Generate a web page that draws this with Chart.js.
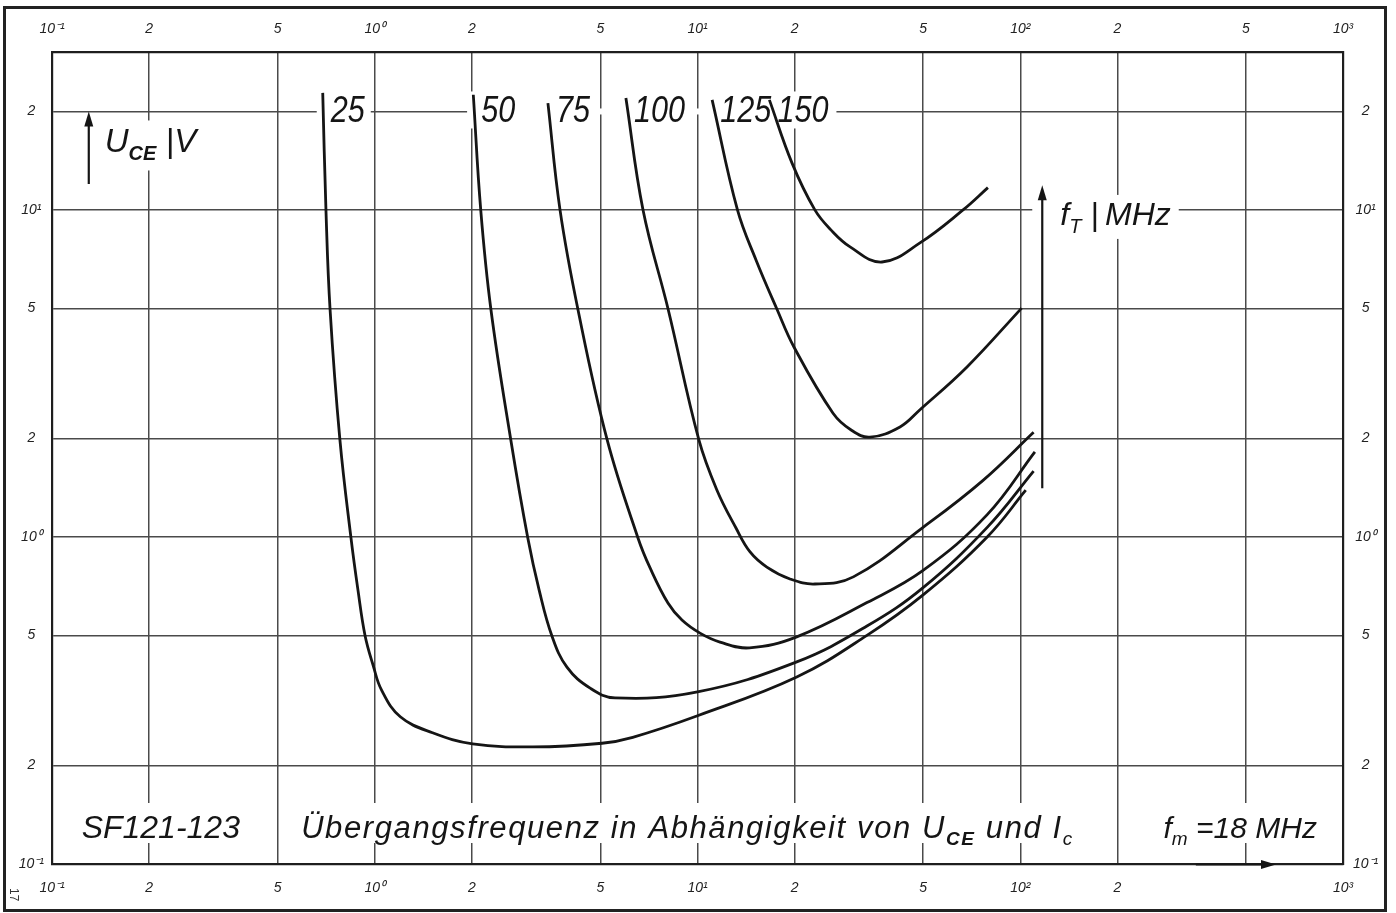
<!DOCTYPE html>
<html>
<head>
<meta charset="utf-8">
<title>SF121-123 Übergangsfrequenz</title>
<script src="https://cdn.jsdelivr.net/npm/chart.js@4.4.1/dist/chart.umd.min.js"></script>
<style>
  html, body { margin: 0; padding: 0; background: #fff; }
  #wrap { width: 1396px; height: 913px; }
</style>
</head>
<body>
<div id="wrap"><canvas id="c" width="1396" height="913"></canvas></div>
<script>
// ---- Axis ticks (log-log grid, 1-2-5 per decade) ----
const X_TICKS = [0.1, 0.2, 0.5, 1, 2, 5, 10, 20, 50, 100, 200, 500, 1000];
const X_LABELS_TOP = ['10⁻¹', '2', '5', '10⁰', '2', '5', '10¹', '2', '5', '10²', '2', '5', '10³'];
const X_LABELS_BOTTOM = ['10⁻¹', '2', '5', '10⁰', '2', '5', '10¹', '2', '5', '10²', '2', '', '10³'];
const Y_TICKS = [0.1, 0.2, 0.5, 1, 2, 5, 10, 20];
const Y_LABELS = ['10⁻¹', '2', '5', '10⁰', '2', '5', '10¹', '2'];

// ---- Curves of constant transit frequency f_T (MHz): I_C in mA, U_CE in V ----
const FT_VALUES = ['25', '50', '75', '100', '125', '150'];

const IC_25  = [0.69, 0.706, 0.727, 0.78, 0.844, 0.887, 0.933, 0.988, 1.05, 1.2, 1.51, 2.01, 3.09, 5.06, 6.3, 10.0, 20.3, 33.5, 50, 79, 104];
const UCE_25 = [22.8, 10, 4.97, 1.98, 0.993, 0.689, 0.5, 0.406, 0.34, 0.282, 0.252, 0.233, 0.228, 0.234, 0.244, 0.284, 0.373, 0.50, 0.665, 1.0, 1.39];

const IC_50  = [2.02, 2.13, 2.29, 2.64, 2.98, 3.23, 3.54, 3.94, 4.65, 5.55, 10.0, 20.3, 33.5, 50, 79, 110];
const UCE_50 = [22.5, 10, 4.97, 1.98, 0.993, 0.689, 0.498, 0.40, 0.345, 0.322, 0.336, 0.415, 0.534, 0.70, 1.07, 1.59];

const IC_75  = [3.44, 3.75, 4.26, 5.25, 6.54, 7.13, 8.10, 8.95, 10.18, 11.74, 14.5, 20.3, 33.5, 50, 79, 111];
const UCE_75 = [21.2, 10, 4.97, 1.98, 0.993, 0.804, 0.628, 0.557, 0.508, 0.477, 0.458, 0.495, 0.63, 0.79, 1.17, 1.82];

const IC_100  = [6.0, 6.78, 8.11, 10.1, 11.49, 13.16, 14.55, 16.4, 19.35, 23.1, 30.4, 50, 76.7, 110];
const UCE_100 = [22.0, 10, 4.97, 1.98, 1.39, 1.065, 0.90, 0.809, 0.744, 0.718, 0.755, 1.07, 1.49, 2.09];

const IC_125  = [11.1, 13.3, 15.18, 17.63, 19.9, 26.3, 30, 34.2, 42.4, 48.9, 68.4, 101];
const UCE_125 = [21.7, 10, 7.03, 4.97, 3.81, 2.39, 2.12, 2.02, 2.17, 2.45, 3.31, 5.01];

const IC_150  = [16.7, 19.63, 23.1, 25.9, 29.7, 37.3, 48.9, 66.5, 79.4];
const UCE_150 = [21.7, 13.9, 10, 8.69, 7.71, 6.93, 7.93, 10, 11.7];

const CURVES = [
  [IC_25, UCE_25], [IC_50, UCE_50], [IC_75, UCE_75],
  [IC_100, UCE_100], [IC_125, UCE_125], [IC_150, UCE_150]
];

// ---- Text ----
const TYPE_NAME = 'SF121-123';
const TITLE_PARTS = [['Übergangsfrequenz in Abhängigkeit von U', 'n'], ['CE', 'sb'], [' und I', 'n'], ['c', 's']];
const FM_PARTS = [['f', 'n'], ['m', 's'], [' =18 MHz', 'n']];
const UCE_PARTS = [['U', 'n'], ['CE', 'sb'], [' |V', 'n']];
const FT_PARTS = [['f', 'n'], ['T', 's'], [' |\u2009MHz', 'n']];
const IC_PARTS = [['I', 'n'], ['c', 's'], ['/mA', 'n']];

const FAMILY = '"Liberation Sans", Arial, sans-serif';
const INK = '#151515';
const GRID = '#4a4a4a';

function fontOf(size, bold) {
  return `italic ${bold ? 'bold ' : ''}${size}px ${FAMILY}`;
}
function partSize(size, kind) {
  return kind === 'n' ? size : Math.round(size * 0.62);
}
function richWidth(ctx, parts, size) {
  let w = 0;
  parts.forEach(([t, k]) => {
    ctx.font = fontOf(partSize(size, k), k === 'sb');
    w += ctx.measureText(t).width;
  });
  return w;
}
function drawRich(ctx, parts, x, base, size) {
  parts.forEach(([t, k]) => {
    ctx.font = fontOf(partSize(size, k), k === 'sb');
    ctx.fillText(t, x, base + (k === 'n' ? 0 : size * 0.24));
    x += ctx.measureText(t).width;
  });
}
function arrow(ctx, x0, y0, x1, y1, lw) {
  const a = Math.atan2(y1 - y0, x1 - x0);
  const L = 15, W = 4.5;
  ctx.lineWidth = lw;
  ctx.beginPath();
  ctx.moveTo(x0, y0);
  ctx.lineTo(x1 - Math.cos(a) * L * 0.6, y1 - Math.sin(a) * L * 0.6);
  ctx.stroke();
  ctx.beginPath();
  ctx.moveTo(x1, y1);
  ctx.lineTo(x1 - Math.cos(a) * L - Math.sin(a) * W, y1 - Math.sin(a) * L + Math.cos(a) * W);
  ctx.lineTo(x1 - Math.cos(a) * L + Math.sin(a) * W, y1 - Math.sin(a) * L - Math.cos(a) * W);
  ctx.closePath();
  ctx.fill();
}

// Lay out all annotation texts (curve labels, axis quantities, bottom caption row)
function layoutNotes(chart) {
  const ctx = chart.ctx;
  const xs = chart.scales.x, ys = chart.scales.y;
  const items = [];
  const strips = [];

  // f_T values at the upper end of each curve
  const lblSize = 36, squeeze = 0.85;
  const y20 = ys.getPixelForValue(20);
  let groupStart = null, groupEnd = null;
  CURVES.forEach(([ic], i) => {
    const x0 = xs.getPixelForValue(ic[0]);
    const base = y20 + 11;
    const left = x0 + 8;
    ctx.font = fontOf(lblSize, false);
    const w = ctx.measureText(FT_VALUES[i]).width * squeeze;
    items.push({ parts: [[FT_VALUES[i], 'n']], x: left, base, size: lblSize, squeeze,
      box: [x0 - 6, base - 31, left + w + 6, base + 6] });
    if (i > 0) {
      if (groupStart === null) groupStart = x0 - 6;
      groupEnd = left + w + 8;
    }
  });
  // the 20 V line is left open across the row of labels 50 ... 150
  strips.push([groupStart, y20 - 3, groupEnd, y20 + 3]);

  // U_CE axis quantity with arrow
  const ua = xs.getPixelForValue(0.13);
  const uBase = y20 + 41;
  const uW = richWidth(ctx, UCE_PARTS, 33);
  items.push({ parts: UCE_PARTS, x: ua + 16, base: uBase, size: 33,
    box: [ua + 10, uBase - 32, ua + 16 + uW + 6, uBase + 18],
    arrow: [ua, ys.getPixelForValue(12), ua, ys.getPixelForValue(20)] });

  // f_T axis quantity with arrow
  const fa = xs.getPixelForValue(117);
  const fBase = ys.getPixelForValue(10) + 15;
  const fW = richWidth(ctx, FT_PARTS, 32);
  items.push({ parts: FT_PARTS, x: fa + 18, base: fBase, size: 32,
    box: [fa - 10, fBase - 30, fa + 18 + fW + 8, fBase + 14],
    arrow: [fa, ys.getPixelForValue(1.41), fa, ys.getPixelForValue(11.9)] });

  // caption row between U_CE = 0.1 V and 0.2 V, split at 0.5 mA and 200 mA
  const capBase = ys.getPixelForValue(0.1) - 26;
  const cells = [[0.1, 0.5, [[TYPE_NAME, 'n']], 32, 0, -4], [0.5, 200, TITLE_PARTS, 31, 1.6, -10], [200, 1000, FM_PARTS, 30, 0, 10]];
  cells.forEach(([a, b, parts, size, sp, shift]) => {
    ctx.letterSpacing = sp + 'px';
    const w = richWidth(ctx, parts, size);
    ctx.letterSpacing = '0px';
    const mid = (xs.getPixelForValue(a) + xs.getPixelForValue(b)) / 2 + shift;
    const left = mid - w / 2;
    items.push({ parts, x: left, base: capBase, size, spacing: sp,
      box: [left - 12, capBase - 35, left + w + 12, capBase + 5] });
  });

  // I_C quantity under the bottom axis
  const icBase = xs.bottom + 34;
  items.push({ parts: IC_PARTS, x: xs.getPixelForValue(300) + 3, base: icBase, size: 29,
    arrow: [xs.getPixelForValue(350), xs.top + 0.5, xs.getPixelForValue(620), xs.top + 0.5] });
  return { items, strips };
}

const decor = {
  id: 'decor',
  beforeDatasetsDraw(chart) {
    const ctx = chart.ctx;
    chart.$notes = layoutNotes(chart);
    ctx.save();
    ctx.fillStyle = '#fff';
    const rects = chart.$notes.items.filter(n => n.box).map(n => n.box).concat(chart.$notes.strips);
    rects.forEach(b => ctx.fillRect(b[0], b[1], b[2] - b[0], b[3] - b[1]));
    ctx.restore();
  },
  afterDatasetsDraw(chart) {
    const ctx = chart.ctx;
    ctx.save();
    ctx.fillStyle = INK;
    ctx.strokeStyle = INK;
    ctx.textBaseline = 'alphabetic';
    ctx.textAlign = 'left';
    chart.$notes.items.forEach(n => {
      ctx.save();
      ctx.letterSpacing = (n.spacing || 0) + 'px';
      if (n.squeeze) {
        ctx.translate(n.x, n.base);
        ctx.scale(n.squeeze, 1);
        drawRich(ctx, n.parts, 0, 0, n.size);
      } else {
        drawRich(ctx, n.parts, n.x, n.base, n.size);
      }
      ctx.restore();
      if (n.arrow) arrow(ctx, n.arrow[0], n.arrow[1], n.arrow[2], n.arrow[3], 2.2);
    });
    ctx.restore();
  },
  afterDraw(chart) {
    const ctx = chart.ctx;
    ctx.save();
    ctx.strokeStyle = '#222';
    ctx.lineWidth = 3;
    ctx.strokeRect(4.5, 7.5, 1381, 903);
    ctx.fillStyle = '#333';
    ctx.font = `12px ${FAMILY}`;
    ctx.translate(10, 888);
    ctx.rotate(Math.PI / 2);
    ctx.fillText('17', 0, 0);
    ctx.restore();
  }
};

const tickFont = { family: FAMILY, style: 'italic', size: 14 };
function fixedTicks(values) {
  return scale => { scale.ticks = values.map(v => ({ value: v })); };
}

const datasets = CURVES.map(([ic, u], i) => ({
  label: FT_VALUES[i] + ' MHz',
  data: ic.map((x, k) => ({ x, y: u[k] })),
  borderColor: INK,
  borderWidth: 2.8,
  pointRadius: 0,
  fill: false,
  tension: 0.4,
  xAxisID: 'x',
  yAxisID: 'y'
}));

new Chart(document.getElementById('c'), {
  type: 'line',
  data: { datasets },
  options: {
    responsive: false,
    animation: false,
    layout: { padding: 0 },
    plugins: { legend: { display: false }, tooltip: { enabled: false } },
    scales: {
      x: {
        type: 'logarithmic', position: 'bottom', min: 0.1, max: 1000,
        afterBuildTicks: fixedTicks(X_TICKS),
        afterFit: s => { s.height = 49; },
        ticks: { callback: (v, i) => X_LABELS_BOTTOM[i], font: tickFont, color: '#222',
                 padding: 16, maxRotation: 0, autoSkip: false },
        grid: { color: GRID, lineWidth: 1.5, drawTicks: false },
        border: { display: true, color: '#1e1e1e', width: 2.2 }
      },
      x2: {
        type: 'logarithmic', position: 'top', min: 0.1, max: 1000,
        afterBuildTicks: fixedTicks(X_TICKS),
        afterFit: s => { s.height = 52; },
        ticks: { callback: (v, i) => X_LABELS_TOP[i], font: tickFont, color: '#222',
                 padding: 14, maxRotation: 0, autoSkip: false },
        grid: { display: false, drawTicks: false },
        border: { display: true, color: '#1e1e1e', width: 2.2 }
      },
      y: {
        type: 'logarithmic', position: 'left', min: 0.1, max: 30.4,
        afterBuildTicks: fixedTicks(Y_TICKS),
        afterFit: s => { s.width = 52; },
        ticks: { callback: (v, i) => Y_LABELS[i], font: tickFont, color: '#222',
                 padding: 8, crossAlign: 'center', autoSkip: false },
        grid: { color: GRID, lineWidth: 1.5, drawTicks: false },
        border: { display: true, color: '#1e1e1e', width: 2.2 }
      },
      y2: {
        type: 'logarithmic', position: 'right', min: 0.1, max: 30.4,
        afterBuildTicks: fixedTicks(Y_TICKS),
        afterFit: s => { s.width = 53; },
        ticks: { callback: (v, i) => Y_LABELS[i], font: tickFont, color: '#222',
                 padding: 10, crossAlign: 'center', autoSkip: false },
        grid: { display: false, drawTicks: false },
        border: { display: true, color: '#1e1e1e', width: 2.2 }
      }
    }
  },
  plugins: [decor]
});
</script>
</body>
</html>
